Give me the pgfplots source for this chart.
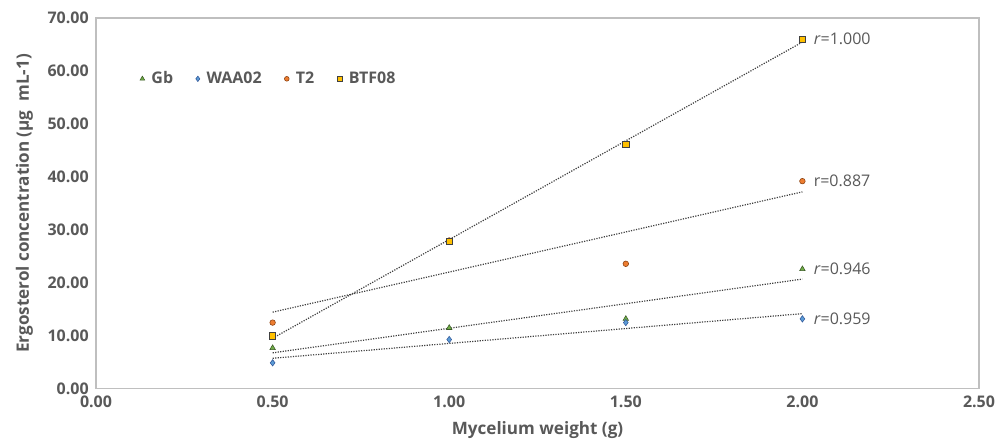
\documentclass[border=0pt]{standalone}
\usepackage{pgfplots}
\pgfplotsset{compat=1.18}
\usepackage{pgfplotstable}
\usepackage{fontspec}
\setmainfont{Open Sans}
\usetikzlibrary{calc}
\definecolor{txt}{HTML}{595959}
\definecolor{gbc}{HTML}{70AD47}
\definecolor{gbo}{HTML}{385723}
\definecolor{wac}{HTML}{5B9BD5}
\definecolor{wao}{HTML}{2F5597}
\definecolor{t2c}{HTML}{ED7D31}
\definecolor{t2o}{HTML}{843C0C}
\definecolor{btc}{HTML}{FFC000}
\definecolor{bto}{HTML}{404040}
\definecolor{trend}{HTML}{404040}

\pgfplotstableread{
x y
0.5 7.7
1.0 11.5
1.5 13.2
2.0 22.6
}\gb
\pgfplotstableread{
x y
0.5 4.9
1.0 9.3
1.5 12.5
2.0 13.2
}\waa
\pgfplotstableread{
x y
0.5 12.5
1.0 28.0
1.5 23.6
2.0 39.2
}\tt
\pgfplotstableread{
x y
0.5 10.0
1.0 27.8
1.5 46.2
2.0 66.0
}\btf

\begin{document}
\begin{tikzpicture}
\begin{axis}[
  scale only axis,
  width=662pt, height=278pt,
  xmin=0, xmax=2.5, ymin=0, ymax=70,
  xtick={0,0.5,1,1.5,2,2.5},
  ytick={0,10,20,30,40,50,60,70},
  axis line style={draw=black!25, line width=0.8pt},
  major tick length=0pt,
  tick style={draw=none},
  ticklabel style={font=\fontsize{12}{14}\selectfont\bfseries, text=txt},
  xticklabel style={yshift=-2pt},
  yticklabel style={xshift=-2pt},
  /pgf/number format/.cd, fixed, fixed zerofill, precision=2, assume math mode=true,
  /pgfplots/.cd,
  xlabel={Mycelium weight (g)},
  ylabel={Ergosterol concentration (µg\ \ mL-1)},
  label style={font=\fontsize{12.8}{15}\selectfont\bfseries, text=txt},
  xlabel style={yshift=-3pt},
  ylabel style={yshift=4pt},
  legend style={draw=none, fill=none, at={(rel axis cs:0.045,0.836)}, anchor=west,
    font=\fontsize{12}{14}\selectfont\bfseries, text=txt, legend columns=4,
    /tikz/every even column/.append style={column sep=15pt},
    /tikz/every odd column/.append style={column sep=3pt}},
  legend image post style={scale=0.85},
  legend cell align=left,
  clip=false,
]
\coordinate (ll) at (rel axis cs:0,0);
\coordinate (ur) at (rel axis cs:1,1);
% trend lines
\addplot[forget plot, trend, densely dotted, line width=0.9pt, no marks] table[x=x, y={create col/linear regression={y=y}}] {\gb};
\addplot[forget plot, trend, densely dotted, line width=0.9pt, no marks] table[x=x, y={create col/linear regression={y=y}}] {\waa};
\addplot[forget plot, trend, densely dotted, line width=0.9pt, no marks] table[x=x, y={create col/linear regression={y=y}}] {\tt};
\addplot[forget plot, trend, densely dotted, line width=0.9pt, no marks] table[x=x, y={create col/linear regression={y=y}}] {\btf};
% data
\addplot[only marks, mark=triangle*, mark size=2.4pt, mark options={fill=gbc, draw=gbo, line width=0.4pt}] table[x=x,y=y] {\gb};
\addlegendentry{Gb}
\addplot[only marks, mark=diamond*, mark size=2.4pt, mark options={fill=wac, draw=wao, line width=0.4pt}] table[x=x,y=y] {\waa};
\addlegendentry{WAA02}
\addplot[only marks, mark=*, mark size=2.1pt, mark options={fill=t2c, draw=t2o, line width=0.4pt}] table[x=x,y=y] {\tt};
\addlegendentry{T2}
\addplot[only marks, mark=square*, mark size=2.3pt, mark options={fill=btc, draw=bto, line width=0.5pt}] table[x=x,y=y] {\btf};
\addlegendentry{BTF08}
\node[anchor=west, font=\fontsize{12}{14}\selectfont, text=txt] at (axis cs:2.0,66.0) {\hspace{5pt}\textit{r}=1.000};
\node[anchor=west, font=\fontsize{12}{14}\selectfont, text=txt] at (axis cs:2.0,39.2) {\hspace{5pt}r=0.887};
\node[anchor=west, font=\fontsize{12}{14}\selectfont, text=txt] at (axis cs:2.0,22.6) {\hspace{5pt}\textit{r}=0.946};
\node[anchor=west, font=\fontsize{12}{14}\selectfont, text=txt] at (axis cs:2.0,13.2) {\hspace{5pt}\textit{r}=0.959};
\end{axis}
\pgfresetboundingbox
\path ($(ll)+(-72pt,-41.25pt)$) rectangle ($(ur)+(12pt,13.5pt)$);
\end{tikzpicture}
\end{document}
